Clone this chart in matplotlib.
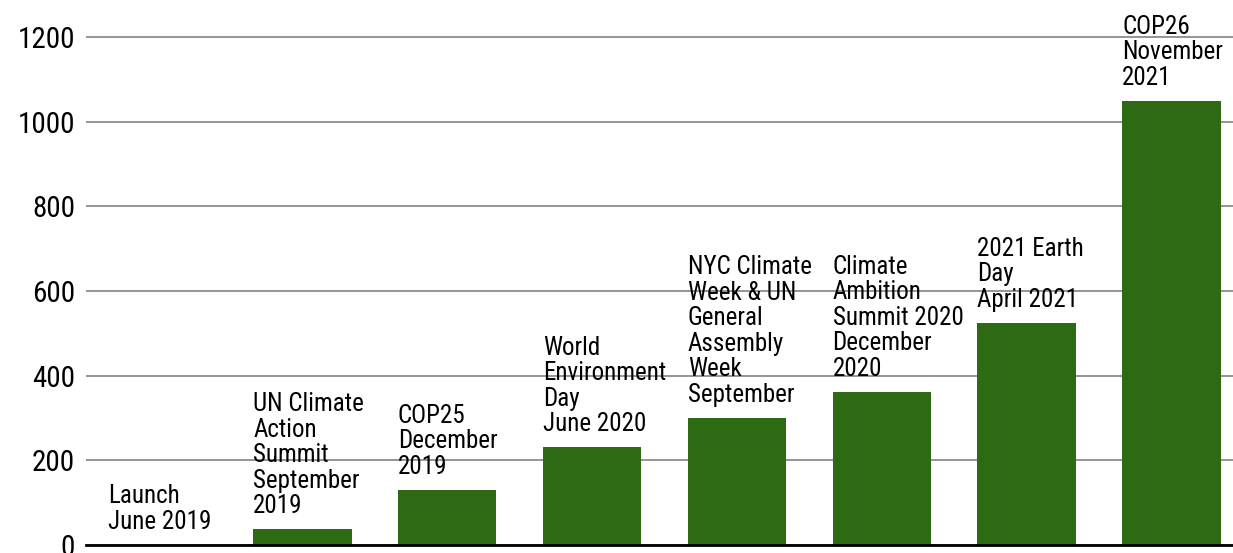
import matplotlib.pyplot as plt
from matplotlib import font_manager

events = [
    "Launch\nJune 2019",
    "UN Climate\nAction\nSummit\nSeptember\n2019",
    "COP25\nDecember\n2019",
    "World\nEnvironment\nDay\nJune 2020",
    "NYC Climate\nWeek & UN\nGeneral\nAssembly\nWeek\nSeptember",
    "Climate\nAmbition\nSummit 2020\nDecember\n2020",
    "2021 Earth\nDay\nApril 2021",
    "COP26\nNovember\n2021",
]
counts = [0, 37, 130, 231, 300, 361, 524, 1049]
yticks = [0, 200, 400, 600, 800, 1000, 1200]

# narrow font similar to the original, fall back to DejaVu
names = {f.name for f in font_manager.fontManager.ttflist}
family = "DejaVu Sans"
for cand in ["Roboto Condensed", "Open Sans Condensed", "PT Sans Narrow",
             "Archivo Narrow", "Liberation Sans Narrow"]:
    if cand in names:
        family = cand
        break
plt.rcParams['font.family'] = [family, 'DejaVu Sans']

fig = plt.figure(figsize=(12.33, 5.53), dpi=100)
ax = fig.add_axes([86 / 1233, 8 / 553, 1 - 86 / 1233, 545 / 553])

x = list(range(len(events)))
width = 0.68
ax.bar(x, counts, width=width, color='#2d6a13', zorder=2)

for xi, val, label in zip(x, counts, events):
    ax.annotate(label, xy=(xi - width / 2, val), xytext=(0, 8),
                textcoords='offset points', ha='left', va='bottom',
                fontsize=18, linespacing=1.08, color='black',
                zorder=4, annotation_clip=False)

ax.set_xlim(-0.493, 7.424)
ax.set_ylim(0, 1287)
ax.set_yticks(yticks)
ax.set_yticklabels([str(t) for t in yticks], fontsize=21)
ax.set_xticks([])
ax.yaxis.grid(True, color='#8c8c8c', linewidth=1.3, zorder=1)
ax.set_axisbelow(True)
ax.tick_params(axis='y', length=0, pad=8)
for side in ['top', 'right', 'left']:
    ax.spines[side].set_visible(False)
ax.spines['bottom'].set_linewidth(2)
ax.spines['bottom'].set_color('black')
ax.spines['bottom'].set_zorder(3)

fig.savefig('out.png', dpi=100)
